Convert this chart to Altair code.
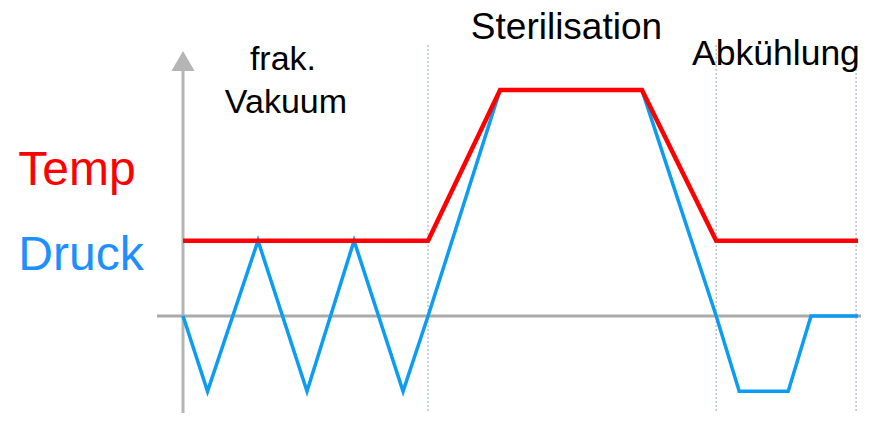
import altair as alt
import pandas as pd

# Schematic time axis (arbitrary units) and value axis (arbitrary units)
temp_t = [0, 10, 12.94, 18.73, 21.76, 27.55]
temp_v = [1, 1, 3, 3, 1, 1]

druck_t = [0, 1.0, 3.06, 5.06, 6.98, 8.98, 10, 12.94, 18.73, 21.76, 22.7, 24.7, 25.63, 27.55]
druck_v = [0, -1, 1, -1, 1, -1, 0, 3, 3, 0, -1, -1, 0, 0]

phase_lines = [10, 21.76, 27.47]

small_text = ["frak.", "Vakuum"]
small_t = [4.08, 4.2]
small_v = [3.27, 2.70]

steril_text = ["Sterilisation"]
steril_t = [15.65]
steril_v = [3.68]

cool_text = ["Abkühlung"]
cool_t = [24.2]
cool_v = [3.33]

legend_text = ["Temp", "Druck"]
legend_t = [-6.72, -6.72]
legend_v = [1.74, 0.61]
legend_color = ["#ff0000", "#1e8fff"]

T_MIN, T_MAX = -7.143, 27.67
V_MIN, V_MAX = -1.288, 4.09

xs = alt.Scale(domain=[T_MIN, T_MAX], nice=False, zero=False)
ys = alt.Scale(domain=[V_MIN, V_MAX], nice=False, zero=False)

def X(field="t"):
    return alt.X(f"{field}:Q", scale=xs, axis=None)

def Y(field="v"):
    return alt.Y(f"{field}:Q", scale=ys, axis=None)

temp_df = pd.DataFrame({"t": temp_t, "v": temp_v, "o": range(len(temp_t))})
druck_df = pd.DataFrame({"t": druck_t, "v": druck_v, "o": range(len(druck_t))})
phase_df = pd.DataFrame({"t": phase_lines, "v": [3.6] * len(phase_lines), "v2": [V_MIN] * len(phase_lines)})
small_df = pd.DataFrame({"text": small_text, "t": small_t, "v": small_v})
steril_df = pd.DataFrame({"text": steril_text, "t": steril_t, "v": steril_v})
cool_df = pd.DataFrame({"text": cool_text, "t": cool_t, "v": cool_v})
legend_df = pd.DataFrame({"text": legend_text, "t": legend_t, "v": legend_v, "c": legend_color})
vaxis_df = pd.DataFrame({"t": [0], "v": [3.4], "v2": [V_MIN]})
haxis_df = pd.DataFrame({"t": [-1.06], "t2": [T_MAX], "v": [0]})
arrow_df = pd.DataFrame({"t": [0], "v": [3.386]})

phase = alt.Chart(phase_df).mark_rule(color="#a9b4c6", strokeWidth=1.2, strokeDash=[2, 2]).encode(
    x=X(), y=Y(), y2="v2:Q")
vaxis = alt.Chart(vaxis_df).mark_rule(color="#b5b5b5", strokeWidth=3).encode(
    x=X(), y=Y(), y2="v2:Q")
haxis = alt.Chart(haxis_df).mark_rule(color="#aaaaaa", strokeWidth=3).encode(
    x=X(), x2="t2:Q", y=Y())
arrow = alt.Chart(arrow_df).mark_point(shape="triangle-up", filled=True, size=540,
                                       color="#b5b5b5", opacity=1).encode(x=X(), y=Y())
druck = alt.Chart(druck_df).mark_line(color="#0c9cf2", strokeWidth=3.5, strokeJoin="miter").encode(
    x=X(), y=Y(), order="o:Q")
temp = alt.Chart(temp_df).mark_line(color="#ff0000", strokeWidth=4.5, strokeJoin="miter").encode(
    x=X(), y=Y(), order="o:Q")
small_labels = alt.Chart(small_df).mark_text(fontSize=34, font="Liberation Sans", align="center",
                                             baseline="alphabetic", color="#000000").encode(
    x=X(), y=Y(), text="text:N")
steril_label = alt.Chart(steril_df).mark_text(fontSize=37, font="Liberation Sans", align="center",
                                              baseline="alphabetic", color="#000000").encode(
    x=X(), y=Y(), text="text:N")
cool_label = alt.Chart(cool_df).mark_text(fontSize=35.5, font="Liberation Sans", align="center",
                                          baseline="alphabetic", color="#000000").encode(
    x=X(), y=Y(), text="text:N")
legend = alt.Chart(legend_df).mark_text(fontSize=48, font="Liberation Sans", align="left",
                                        baseline="alphabetic").encode(
    x=X(), y=Y(), text="text:N", color=alt.Color("c:N", scale=None))

chart = alt.layer(phase, vaxis, haxis, arrow, druck, temp, small_labels, steril_label,
                  cool_label, legend).properties(
    width=853, height=405,
    autosize=alt.AutoSizeParams(type="none"),
    padding=0,
    background="#ffffff",
).configure_view(stroke=None, strokeWidth=0)

chart.save("out.html", embed_options={"renderer": "svg", "actions": False})
